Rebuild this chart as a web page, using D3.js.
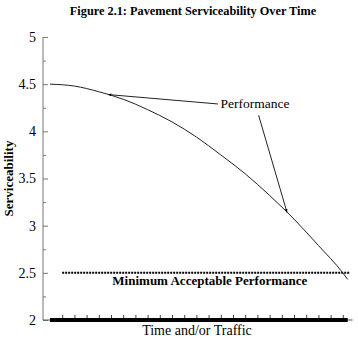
<!DOCTYPE html>
<html>
<head>
<meta charset="utf-8">
<script src="https://cdn.jsdelivr.net/npm/d3@7"></script>
<style>
  body { margin: 0; background: #fff; }
  svg text { fill: #000; }
</style>
</head>
<body>
<div id="chart"></div>
<script>
// values (time in tick units, serviceability)
var timeSteps = [0, 2, 4, 6, 8, 10, 12, 14, 16, 18, 20, 22, 24, 24.4];
var serviceability = [4.50, 4.48, 4.42, 4.34, 4.23, 4.10, 3.94, 3.75, 3.55, 3.32, 3.07, 2.79, 2.50, 2.43];
var yMajorTicks = [2, 2.5, 3, 3.5, 4, 4.5, 5];
var yMinorTicks = [2.25, 2.75, 3.25, 3.75, 4.25, 4.75];
var xMinorTicks = d3.range(1, 25);
var minimumAcceptable = 2.5;
var minLineSpan = [1, 24.6];

var width = 358, height = 339;
var axisX = 43;
var serif = "Liberation Serif";

var x = d3.scaleLinear().domain([0, 25]).range([50, 355]);
var y = d3.scaleLinear().domain([2, 5]).range([320, 37]);

var svg = d3.select("#chart").append("svg")
    .attr("width", width)
    .attr("height", height)
    .attr("font-family", serif);

svg.append("defs").append("marker")
    .attr("id", "arrow")
    .attr("viewBox", "0 0 10 10")
    .attr("refX", 10).attr("refY", 5)
    .attr("markerWidth", 3.5).attr("markerHeight", 3.5)
    .attr("orient", "auto")
    .append("path")
    .attr("d", "M0,1 L10,5 L0,9 Z")
    .attr("fill", "#000");

// title
svg.append("text")
    .attr("x", 193).attr("y", 15)
    .attr("text-anchor", "middle")
    .style("font-family", serif)
    .style("font-size", "12.3px")
    .style("font-weight", "bold")
    .text("Figure 2.1:  Pavement Serviceability Over Time");

// y axis
var yAxis = d3.axisLeft(y)
    .tickValues(yMajorTicks)
    .tickSize(-5)
    .tickPadding(7)
    .tickFormat(d3.format("~g"));

var gy = svg.append("g")
    .attr("transform", "translate(" + axisX + ",0)")
    .call(yAxis)
    .attr("font-family", serif);
gy.select(".domain").attr("stroke", "#777").attr("d", "M0," + y(5) + "V" + y(2));
gy.selectAll(".tick line").attr("stroke", "#777");
gy.selectAll("text").style("font-size", "14px").style("font-family", serif);

svg.append("g")
    .attr("transform", "translate(" + axisX + ",0)")
    .call(d3.axisLeft(y).tickValues(yMinorTicks).tickSize(-3).tickFormat(""))
    .call(function (g) { g.select(".domain").remove(); })
    .selectAll("line").attr("stroke", "#777");

svg.append("text")
    .attr("transform", "translate(13," + y(3.5) + ") rotate(-90)")
    .attr("text-anchor", "middle")
    .style("font-family", serif)
    .style("font-size", "13px")
    .style("font-weight", "bold")
    .text("Serviceability");

// x axis
svg.append("line")
    .attr("x1", axisX).attr("x2", x(24.8))
    .attr("y1", y(2)).attr("y2", y(2))
    .attr("stroke", "#555");

svg.append("g")
    .attr("transform", "translate(0," + y(2) + ")")
    .call(d3.axisBottom(x).tickValues(xMinorTicks).tickSize(-5).tickFormat(""))
    .call(function (g) { g.select(".domain").remove(); })
    .selectAll("line").attr("stroke", "#444");

svg.append("line")
    .attr("x1", x(0)).attr("x2", x(d3.max(timeSteps)))
    .attr("y1", y(2)).attr("y2", y(2))
    .attr("stroke", "#000")
    .attr("stroke-width", 4);

svg.append("text")
    .attr("x", 197).attr("y", 335)
    .attr("text-anchor", "middle")
    .style("font-family", serif)
    .style("font-size", "14px")
    .text("Time and/or Traffic");

// minimum acceptable line
svg.append("line")
    .attr("x1", x(minLineSpan[0])).attr("x2", x(minLineSpan[1]))
    .attr("y1", y(minimumAcceptable)).attr("y2", y(minimumAcceptable))
    .attr("stroke", "#000")
    .attr("stroke-width", 2)
    .attr("stroke-dasharray", "2,1");

svg.append("text")
    .attr("x", x(13.1)).attr("y", y(2.37))
    .attr("text-anchor", "middle")
    .style("font-family", serif)
    .style("font-size", "13px")
    .style("font-weight", "bold")
    .text("Minimum Acceptable Performance");

// performance curve
var pts = timeSteps.map(function (t, i) { return [t, serviceability[i]]; });
var line = d3.line()
    .x(function (d) { return x(d[0]); })
    .y(function (d) { return y(d[1]); })
    .curve(d3.curveMonotoneX);

svg.append("path")
    .datum(pts)
    .attr("d", line)
    .attr("fill", "none")
    .attr("stroke", "#222")
    .attr("stroke-width", 1);

// annotation
svg.append("text")
    .attr("x", x(13.98)).attr("y", y(4.25))
    .style("font-family", serif)
    .style("font-size", "13.5px")
    .text("Performance");

var leaders = [
    [[13.77, 4.29], [4.75, 4.39]],
    [[17.1, 4.17], [19.43, 3.14]]
];
svg.selectAll(".leader")
    .data(leaders)
    .enter().append("line")
    .attr("class", "leader")
    .attr("x1", function (d) { return x(d[0][0]); })
    .attr("y1", function (d) { return y(d[0][1]); })
    .attr("x2", function (d) { return x(d[1][0]); })
    .attr("y2", function (d) { return y(d[1][1]); })
    .attr("stroke", "#222")
    .attr("stroke-width", 1)
    .attr("marker-end", "url(#arrow)");
</script>
</body>
</html>
